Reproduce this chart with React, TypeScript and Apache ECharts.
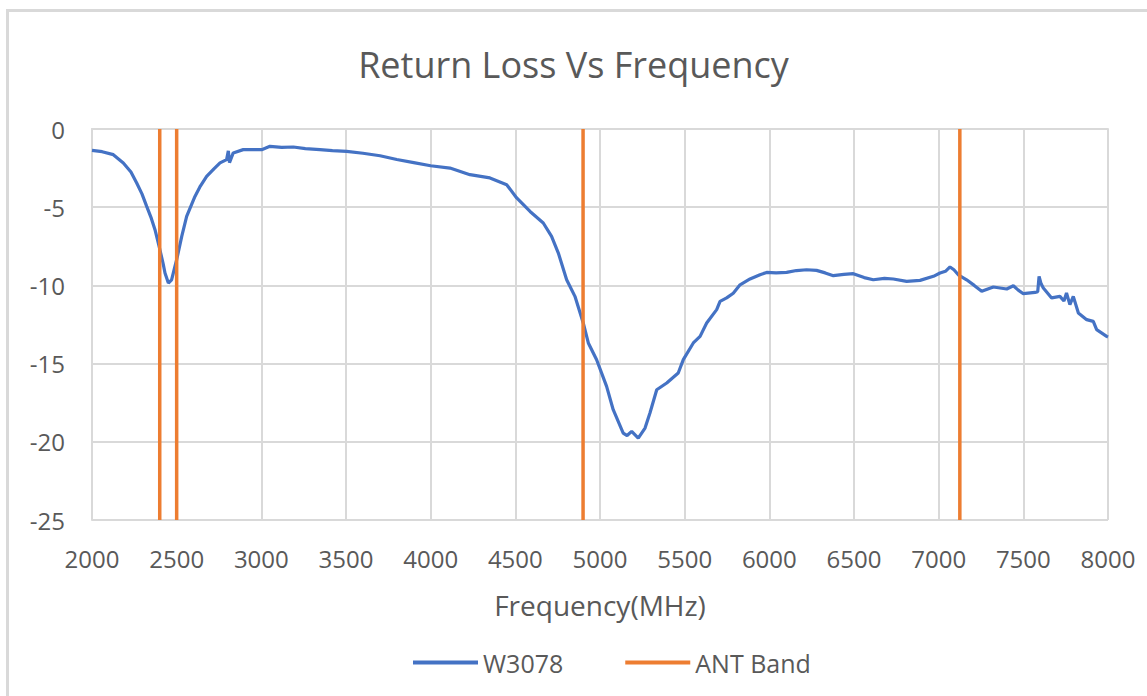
import React, { useEffect, useRef } from "react";
import * as echarts from "echarts";

const freq = [
  2000, 2060, 2126, 2185, 2230, 2264, 2295, 2323, 2350, 2372, 2401, 2420, 2431, 2451, 2470, 2485, 2500,
  2530, 2559, 2608, 2640, 2677, 2720, 2756, 2795, 2805, 2812, 2834, 2893, 3002, 3051, 3120, 3189, 3260,
  3346, 3420, 3504, 3600, 3701, 3800, 3900, 4000, 4114, 4232, 4350, 4449, 4508, 4587, 4665, 4714, 4754,
  4803, 4852, 4901, 4931, 4980, 5039, 5078, 5137, 5160, 5187, 5226, 5266, 5295, 5335, 5394, 5462, 5492,
  5551, 5591, 5630, 5689, 5709, 5748, 5787, 5827, 5886, 5945, 5984, 6040, 6102, 6160, 6220, 6279, 6330,
  6378, 6440, 6496, 6560, 6614, 6680, 6732, 6811, 6890, 6969, 7008, 7040, 7067, 7090, 7116, 7165, 7210,
  7254, 7323, 7402, 7441, 7470, 7500, 7569, 7585, 7593, 7605, 7618, 7667, 7716, 7740, 7755, 7775, 7795,
  7825, 7874, 7913, 7933, 7992, 8000,
];
const returnLoss = [
  -1.37, -1.45, -1.64, -2.17, -2.75, -3.45, -4.15, -4.95, -5.7, -6.44, -7.72, -8.6, -9.21, -9.85, -9.64, -9.0, -8.36,
  -6.87, -5.59, -4.31, -3.65, -3.03, -2.55, -2.17, -1.96, -1.4, -2.15, -1.53, -1.32, -1.32, -1.11, -1.18, -1.15, -1.25,
  -1.32, -1.38, -1.43, -1.55, -1.71, -1.95, -2.15, -2.35, -2.5, -2.92, -3.13, -3.56, -4.41, -5.27, -6.01, -6.87, -7.93,
  -9.64, -10.7, -12.4, -13.68, -14.75, -16.46, -17.95, -19.44, -19.6, -19.33, -19.76, -19.12, -18.16, -16.67, -16.24, -15.6, -14.75,
  -13.68, -13.26, -12.4, -11.55, -11.02, -10.8, -10.5, -9.96, -9.59, -9.32, -9.17, -9.2, -9.17, -9.05, -9.0, -9.04, -9.2,
  -9.38, -9.3, -9.25, -9.5, -9.64, -9.55, -9.59, -9.74, -9.68, -9.42, -9.21, -9.1, -8.82, -9.0, -9.32, -9.64, -10.0,
  -10.38, -10.1, -10.23, -10.02, -10.3, -10.53, -10.45, -10.4, -9.42, -9.9, -10.17, -10.8, -10.7, -11.0, -10.49, -11.23, -10.7,
  -11.76, -12.19, -12.3, -12.83, -13.26, -13.3,
];
const antBand = [2400, 2500, 4900, 7125];
const antRange = [0, -25];

const FONT = "'Open Sans', sans-serif";
const TXT = "#595959";
const GRID = "#d9d9d9";

export default function App() {
  const ref = useRef<HTMLDivElement>(null);
  useEffect(() => {
    if (!ref.current) return;
    const chart = echarts.init(ref.current, undefined, { renderer: "svg" });
    const series: any[] = [
      {
        name: "W3078",
        type: "line",
        data: freq.map((f, i) => [f, returnLoss[i]]),
        showSymbol: false,
        symbol: "none",
        lineStyle: { color: "#4472C4", width: 3.2 },
        itemStyle: { color: "#4472C4" },
        z: 3,
      },
      ...antBand.map((f) => ({
        name: "ANT Band",
        type: "line",
        data: antRange.map((v) => [f, v]),
        showSymbol: false,
        symbol: "none",
        lineStyle: { color: "#ED7D31", width: 3.5 },
        itemStyle: { color: "#ED7D31" },
        z: 4,
      })),
    ];
    chart.setOption({
      animation: false,
      backgroundColor: "#fff",
      title: {
        text: "Return Loss Vs Frequency",
        left: "center",
        top: 46,
        padding: 0,
        textStyle: { fontFamily: FONT, fontSize: 36, fontWeight: "normal", color: TXT },
      },
      graphic: [
        {
          type: "rect",
          shape: { x: 7.5, y: 10.5, width: 1200, height: 800 },
          style: { fill: "none", stroke: GRID, lineWidth: 3 },
          silent: true,
        },
      ],
      grid: { left: 92, right: 39, top: 129, bottom: 176, containLabel: false },
      legend: {
        data: ["W3078", "ANT Band"],
        top: 650,
        left: 413,
        padding: 0,
        icon: "rect",
        itemWidth: 65,
        itemHeight: 4,
        itemGap: 62,
        textStyle: { fontFamily: FONT, fontSize: 25, color: TXT },
      },
      xAxis: {
        type: "value",
        min: 2000,
        max: 8000,
        interval: 500,
        name: "Frequency(MHz)",
        nameLocation: "middle",
        nameGap: 71,
        nameTextStyle: { fontFamily: FONT, fontSize: 28, color: TXT },
        axisLine: { show: true, lineStyle: { color: GRID, width: 2 } },
        axisTick: { show: false },
        axisLabel: {
          fontFamily: FONT,
          fontSize: 24,
          color: TXT,
          margin: 26,
          formatter: (v: number) => String(v),
        },
        splitLine: { show: true, lineStyle: { color: GRID, width: 2 } },
      },
      yAxis: {
        type: "value",
        min: -25,
        max: 0,
        interval: 5,
        axisLine: { show: true, lineStyle: { color: GRID, width: 2 } },
        axisTick: { show: false },
        axisLabel: { fontFamily: FONT, fontSize: 24, color: TXT, margin: 27 },
        splitLine: { show: true, lineStyle: { color: GRID, width: 2 } },
      },
      series,
    });
    return () => chart.dispose();
  }, []);
  return (
    <div
      ref={ref}
      style={{ position: "fixed", left: 0, top: 0, width: 1147, height: 696 }}
    />
  );
}
